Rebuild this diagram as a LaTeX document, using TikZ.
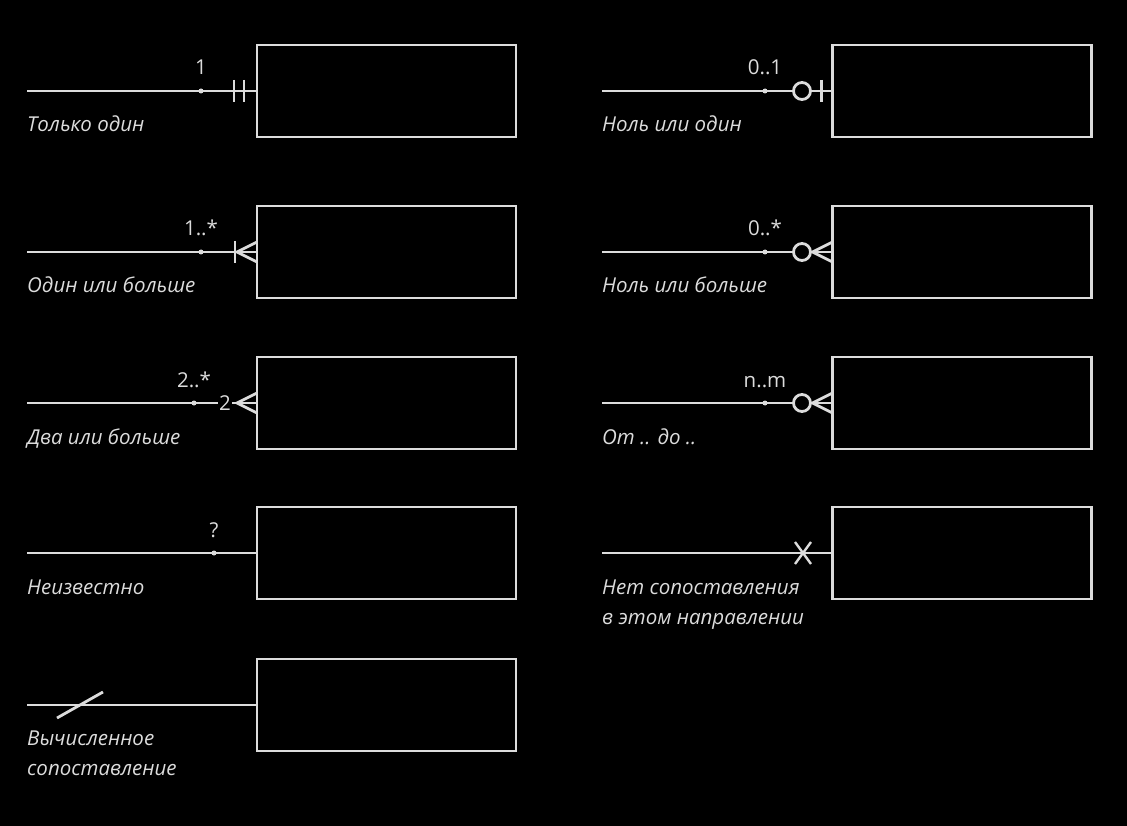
\documentclass[tikz,border=0pt]{standalone}
\usepackage{fontspec}
\setmainfont{Open Sans}
\definecolor{fg}{HTML}{DCDCDC}
\begin{document}
\begin{tikzpicture}[x=1pt,y=-1pt,
  box/.style={draw=fg,line width=2.8pt,minimum width=259pt,minimum height=92pt,inner sep=0pt,outer sep=0pt},
  conn/.style={draw=fg,line width=2.8pt},
  sym/.style={draw=fg,line width=2.8pt},
  dot/.style={circle,fill=fg,inner sep=0pt,minimum size=5pt},
  ring/.style={circle,draw=fg,fill=black,line width=2.8pt,inner sep=0pt,minimum size=17pt},
  num/.style={text=fg,font=\fontsize{20.5}{22}\selectfont,anchor=base},
  lbl/.style={text=fg,font=\fontsize{20.5}{22}\selectfont\itshape,anchor=base west,inner sep=0pt}]
\fill[black] (0,0) rectangle (1127,826);
\useasboundingbox (0,0) rectangle (1127,826);
% ---------- left column ----------
% row 1
\node[box] (b1) at (386.5,91) {};
\coordinate (s1) at (27,91);
\draw[conn] (s1) -- (b1.west);
\node[dot] (d1) at (201,91) {};
\node[num] (n1) at (201,75) {1};
\draw[sym] ([shift={(-23,-11)}]b1.west) -- ++(0,22);
\draw[sym] ([shift={(-13,-11)}]b1.west) -- ++(0,22);
\node[lbl] (l1) at (27,132) {Только один};
% row 2
\node[box] (b2) at (386.5,252) {};
\coordinate (s2) at (27,252);
\draw[conn] (s2) -- (b2.west);
\node[dot] (d2) at (201,252) {};
\node[num] (n2) at (201,236) {1..*};
\draw[sym] ([shift={(-22,-11)}]b2.west) -- ++(0,22);
\draw[sym] ([shift={(0,-10)}]b2.west) -- ([shift={(-20,0)}]b2.west) -- ([shift={(0,10)}]b2.west);
\node[lbl] (l2) at (27,293) {Один или больше};
% row 3
\node[box] (b3) at (386.5,403) {};
\coordinate (s3) at (27,403);
\draw[conn] (s3) -- (b3.west);
\node[dot] (d3) at (194,403) {};
\node[num] (n3) at (194,387) {2..*};
\node[num,fill=black,inner sep=1pt] (t3) at (225,410) {2};
\draw[sym] ([shift={(0,-10)}]b3.west) -- ([shift={(-20,0)}]b3.west) -- ([shift={(0,10)}]b3.west);
\node[lbl] (l3) at (27,444) {Два или больше};
% row 4
\node[box] (b4) at (386.5,553) {};
\coordinate (s4) at (27,553);
\draw[conn] (s4) -- (b4.west);
\node[dot] (d4) at (214,553) {};
\node[num] (n4) at (214,537) {?};
\node[lbl] (l4) at (27,594) {Неизвестно};
% row 5
\node[box] (b5) at (386.5,705) {};
\coordinate (s5) at (27,705);
\draw[conn] (s5) -- (b5.west);
\coordinate (c5a) at (57,718);
\coordinate (c5b) at (103,692);
\draw[sym] (c5a) -- (c5b);
\node[lbl] (l5) at (27,745) {Вычисленное};
\node[lbl] (l5b) at (27,775) {сопоставление};
% ---------- right column ----------
% row 1
\node[box] (r1) at (962,91) {};
\coordinate (t1) at (602,91);
\draw[conn] (t1) -- (r1.west);
\node[dot] (e1) at (765,91) {};
\node[num] (m1) at (765,75) {0..1};
\node[ring] (o1) at (802,91) {};
\draw[sym] ([shift={(-11,-11)}]r1.west) -- ++(0,22);
\node[lbl] (k1) at (602,132) {Ноль или один};
% row 2
\node[box] (r2) at (962,252) {};
\coordinate (t2) at (602,252);
\draw[conn] (t2) -- (r2.west);
\node[dot] (e2) at (765,252) {};
\node[num] (m2) at (765,236) {0..*};
\draw[sym] ([shift={(0,-10)}]r2.west) -- ([shift={(-20,0)}]r2.west) -- ([shift={(0,10)}]r2.west);
\node[ring] (o2) at (802,252) {};
\node[lbl] (k2) at (602,293) {Ноль или больше};
% row 3
\node[box] (r3) at (962,403) {};
\coordinate (t3) at (602,403);
\draw[conn] (t3) -- (r3.west);
\node[dot] (e3) at (765,403) {};
\node[num] (m3) at (765,387) {n..m};
\draw[sym] ([shift={(0,-10)}]r3.west) -- ([shift={(-20,0)}]r3.west) -- ([shift={(0,10)}]r3.west);
\node[ring] (o3) at (802,403) {};
\node[lbl] (k3) at (602,444) {От .. до ..};
% row 4
\node[box] (r4) at (962,553) {};
\coordinate (t4) at (602,553);
\draw[conn] (t4) -- (r4.west);
\draw[draw=fg,line width=2.4pt] (795,542) -- (811,564) (811,542) -- (795,564);
\node[lbl] (k4) at (602,594) {Нет сопоставления};
\node[lbl] (k4b) at (602,624) {в этом направлении};
\end{tikzpicture}
\end{document}
